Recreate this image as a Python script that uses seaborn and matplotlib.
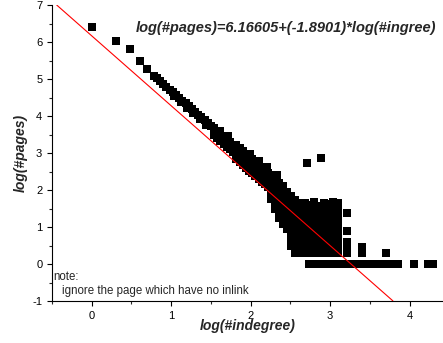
import numpy as np
import pandas as pd
import matplotlib
matplotlib.use("Agg")
import matplotlib.pyplot as plt
from matplotlib.ticker import MultipleLocator
import seaborn as sns

# -- data (log10 scale on both axes) ---------------------------------------
# first few indegree values, clearly separated
head_x = [0.000, 0.301, 0.477, 0.602, 0.699]
head_y = [6.41, 6.04, 5.82, 5.49, 5.26]

# the narrow band
band_x = [0.78, 0.82, 0.86, 0.90, 0.94, 0.98, 1.02, 1.06, 1.10, 1.14,
          1.18, 1.22, 1.26, 1.30, 1.34, 1.38, 1.42, 1.46, 1.50]
band_y = [5.09, 5.02, 4.94, 4.87, 4.79, 4.71, 4.64, 4.56, 4.49, 4.41,
          4.34, 4.26, 4.18, 4.11, 4.03, 3.96, 3.88, 3.81, 3.73]
band2_x = [1.04, 1.12, 1.20, 1.28, 1.36, 1.44]
band2_y = [4.53, 4.38, 4.22, 4.07, 3.92, 3.77]

# band gets wider: two rows, then three rows
wide_x = [1.54, 1.58, 1.62, 1.66, 1.70, 1.74, 1.78]
wide_lo = [3.48, 3.40, 3.32, 3.25, 3.17, 3.10, 3.02]
wide_hi = [3.68, 3.60, 3.52, 3.45, 3.37, 3.30, 3.22]

thick_x = [1.82, 1.86, 1.90, 1.94, 1.98, 2.02, 2.06, 2.10, 2.14, 2.18, 2.22]
thick_lo = [2.83, 2.75, 2.68, 2.60, 2.52, 2.45, 2.37, 2.30, 2.22, 2.15, 2.07]
thick_mid = [3.03, 2.95, 2.88, 2.80, 2.72, 2.65, 2.57, 2.50, 2.42, 2.35, 2.27]
thick_hi = [3.21, 3.13, 3.06, 2.98, 2.90, 2.83, 2.75, 2.68, 2.60, 2.53, 2.45]

spike_x = [1.62, 1.72, 1.99, 2.11, 2.20, 2.33]
spike_y = [3.60, 3.47, 2.97, 2.78, 2.62, 2.40]

# left edge of the cloud, column by column
edge_x = ([2.26] * 5 + [2.31] * 6 + [2.36] * 7 + [2.41] * 8 + [2.46] * 7
          + [2.51] * 10 + [2.56] * 11)
edge_y = [1.75, 1.92, 2.08, 2.24, 2.40,
          1.50, 1.66, 1.82, 1.98, 2.14, 2.30,
          1.25, 1.40, 1.55, 1.70, 1.85, 2.00, 2.20,
          1.08, 1.22, 1.36, 1.50, 1.65, 1.80, 1.95, 2.12,
          0.95, 1.12, 1.30, 1.48, 1.64, 1.80, 1.95,
          0.48, 0.62, 0.78, 0.92, 1.06, 1.20, 1.34, 1.48, 1.64, 1.84,
          0.30, 0.48, 0.62, 0.78, 0.92, 1.06, 1.20, 1.34, 1.48, 1.62, 1.74]

# the solid part of the cloud
block_x = [2.62, 2.68, 2.74, 2.80, 2.86, 2.92, 2.98, 3.04, 3.10]
block_levels = [0.30, 0.48, 0.62, 0.78, 0.92, 1.06, 1.20, 1.34, 1.48]
block_top = [1.66, 1.64, 1.60, 1.67, 1.58, 1.66, 1.62, 1.67, 1.64]

# scattered points right of the cloud
tail_x = [3.21, 3.21, 3.21, 3.21, 3.21, 3.40, 3.40, 3.70, 2.71, 2.88]
tail_y = [1.38, 0.89, 0.60, 0.48, 0.30, 0.47, 0.30, 0.30, 2.72, 2.87]

# pages counted once (log = 0)
zero_x = [2.74, 2.81, 2.88, 2.95, 3.02, 3.09, 3.16, 3.23, 3.30, 3.37,
          3.44, 3.51, 3.58, 3.65, 3.72, 3.79, 3.86, 4.06, 4.23, 4.29]

# fitted line from the label
fit_intercept = 6.16605
fit_slope = -1.8901
fit_x = [-0.44, 3.79]

# -- assemble ---------------------------------------------------------------
bx, by = np.meshgrid(block_x, block_levels)
xs = (head_x + band_x + band2_x + wide_x * 2 + thick_x * 3 + spike_x
      + edge_x + list(bx.ravel()) + block_x + tail_x + zero_x)
ys = (head_y + band_y + band2_y + wide_lo + wide_hi + thick_lo + thick_mid
      + thick_hi + spike_y + edge_y + list(by.ravel()) + block_top + tail_y
      + [0.0] * len(zero_x))
df = pd.DataFrame({"x": xs, "y": ys})

fit_df = pd.DataFrame({"x": fit_x})
fit_df["y"] = fit_intercept + fit_slope * fit_df["x"]

# -- plot -----------------------------------------------------------------
sns.set_style("ticks")
plt.rcParams["font.family"] = ["Liberation Sans", "DejaVu Sans"]
plt.rcParams["axes.unicode_minus"] = False

fig = plt.figure(figsize=(4.43, 3.43), dpi=100)
ax = fig.add_axes([52 / 443, 42 / 343, 391 / 443, 296 / 343])

sns.scatterplot(data=df, x="x", y="y", marker="s", color="black", s=28,
                linewidth=0, ax=ax, legend=False, zorder=2)
sns.lineplot(data=fit_df, x="x", y="y", color="#ff0000", linewidth=0.8,
             ax=ax, zorder=3)

ax.set_xlim(-0.5, 4.42)
ax.set_ylim(-1, 7)
ax.xaxis.set_major_locator(MultipleLocator(1))
ax.xaxis.set_minor_locator(MultipleLocator(0.5))
ax.yaxis.set_major_locator(MultipleLocator(1))
ax.yaxis.set_minor_locator(MultipleLocator(0.5))
ax.tick_params(which="major", direction="out", length=3.5, width=0.8,
               labelsize=8, colors="black")
ax.tick_params(which="minor", direction="out", length=2.5, width=0.8)
sns.despine(ax=ax)
for side in ["left", "bottom"]:
    ax.spines[side].set_linewidth(0.8)
    ax.spines[side].set_color("black")

ax.set_xlabel("log(#indegree)", fontsize=10, fontweight="bold",
              fontstyle="italic", labelpad=-1)
ax.set_ylabel("log(#pages)", fontsize=10, fontweight="bold",
              fontstyle="italic", labelpad=3)

ax.text(4.33, 6.38, "log(#pages)=6.16605+(-1.8901)*log(#ingree)",
        fontsize=10.5, fontweight="bold", fontstyle="italic",
        ha="right", va="center")
ax.text(-0.49, -0.35, "note:", fontsize=8.3, ha="left", va="center")
ax.text(-0.38, -0.73, "ignore the page which have no inlink", fontsize=8.3,
        ha="left", va="center")

fig.savefig("out.png", dpi=100)
